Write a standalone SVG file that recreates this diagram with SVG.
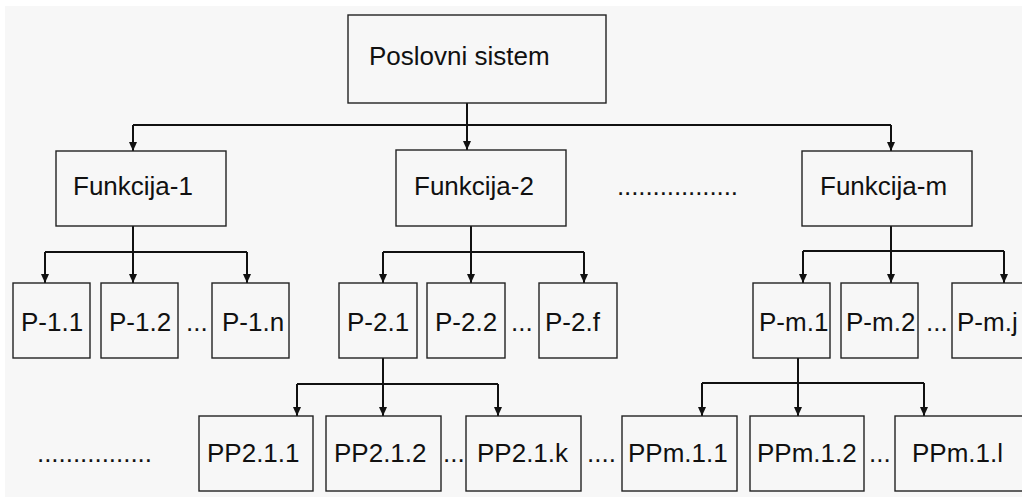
<svg xmlns="http://www.w3.org/2000/svg" width="1022" height="498" viewBox="0 0 1022 498">
  <style>
    .box { fill: none; stroke: #222; stroke-width: 1.4; }
    .lbl { font-family: "Liberation Sans", Arial, sans-serif; font-size: 26px; fill: #111; }
    .wire { fill: none; stroke: #111; stroke-width: 2; }
    .drop { fill: none; stroke: #111; stroke-width: 2; marker-end: url(#arr); }
  </style>
  <defs>
    <!-- small filled arrowhead; tip sits exactly on the path end -->
    <marker id="arr" markerUnits="userSpaceOnUse" markerWidth="10" markerHeight="10" refX="9" refY="4" orient="auto" viewBox="0 0 10 8">
      <path d="M0,0 L9,4 L0,8 Z" fill="#111"/>
    </marker>
  </defs>

  <rect width="1022" height="498" fill="#ffffff"/>
  <rect x="5" y="6" width="1017" height="491" fill="#f7f7f7"/>

  <!-- connectors -->
  <g id="connectors">
    <!-- root to functions -->
    <path class="wire" d="M467,103 V125"/>
    <path class="wire" d="M133,125 H891"/>
    <path class="drop" d="M133,125 V151"/>
    <path class="drop" d="M467,125 V150"/>
    <path class="drop" d="M891,125 V151"/>
    <!-- function 1 to processes -->
    <path class="wire" d="M133,226 V252"/>
    <path class="wire" d="M45,252 H247"/>
    <path class="drop" d="M45,252 V283"/>
    <path class="drop" d="M133,252 V283"/>
    <path class="drop" d="M247,252 V283"/>
    <!-- function 2 to processes -->
    <path class="wire" d="M471,226 V252"/>
    <path class="wire" d="M383,252 H584"/>
    <path class="drop" d="M383,252 V283"/>
    <path class="drop" d="M471,252 V283"/>
    <path class="drop" d="M584,252 V283"/>
    <!-- function m to processes -->
    <path class="wire" d="M891,226 V251"/>
    <path class="wire" d="M803,251 H1004"/>
    <path class="drop" d="M803,251 V283"/>
    <path class="drop" d="M891,251 V283"/>
    <path class="drop" d="M1004,251 V283"/>
    <!-- P-2.1 to subprocesses -->
    <path class="wire" d="M383,358 V384"/>
    <path class="wire" d="M297,384 H498"/>
    <path class="drop" d="M297,384 V416"/>
    <path class="drop" d="M383,384 V416"/>
    <path class="drop" d="M498,384 V416"/>
    <!-- P-m.1 to subprocesses -->
    <path class="wire" d="M798,358 V383"/>
    <path class="wire" d="M702,383 H924"/>
    <path class="drop" d="M702,383 V416"/>
    <path class="drop" d="M798,383 V416"/>
    <path class="drop" d="M924,383 V416"/>
  </g>

  <!-- root -->
  <g id="poslovni-sistem">
    <rect class="box" x="348" y="15" width="258" height="88"/>
    <text class="lbl" x="369" y="65">Poslovni sistem</text>
  </g>

  <!-- functions -->
  <g id="funkcija-1">
    <rect class="box" x="56" y="151" width="170" height="75"/>
    <text class="lbl" x="73" y="195">Funkcija-1</text>
  </g>
  <g id="funkcija-2">
    <rect class="box" x="396" y="150" width="170" height="76"/>
    <text class="lbl" x="414" y="195">Funkcija-2</text>
  </g>
  <text class="lbl" x="617" y="195" textLength="121" lengthAdjust="spacing">.................</text>
  <g id="funkcija-m">
    <rect class="box" x="802" y="151" width="170" height="75"/>
    <text class="lbl" x="820" y="195">Funkcija-m</text>
  </g>

  <!-- processes of function 1 -->
  <g id="p-1-1">
    <rect class="box" x="13" y="283" width="77" height="75"/>
    <text class="lbl" x="21" y="331">P-1.1</text>
  </g>
  <g id="p-1-2">
    <rect class="box" x="101" y="283" width="77" height="75"/>
    <text class="lbl" x="109" y="331">P-1.2</text>
  </g>
  <text class="lbl" x="186" y="331">...</text>
  <g id="p-1-n">
    <rect class="box" x="212" y="283" width="77" height="75"/>
    <text class="lbl" x="222" y="331">P-1.n</text>
  </g>

  <!-- processes of function 2 -->
  <g id="p-2-1">
    <rect class="box" x="339" y="283" width="78" height="75"/>
    <text class="lbl" x="347" y="331">P-2.1</text>
  </g>
  <g id="p-2-2">
    <rect class="box" x="427" y="283" width="78" height="75"/>
    <text class="lbl" x="435" y="331">P-2.2</text>
  </g>
  <text class="lbl" x="511" y="331">...</text>
  <g id="p-2-f">
    <rect class="box" x="539" y="283" width="78" height="75"/>
    <text class="lbl" x="545" y="331">P-2.f</text>
  </g>

  <!-- processes of function m -->
  <g id="p-m-1">
    <rect class="box" x="753" y="283" width="77" height="75"/>
    <text class="lbl" x="759" y="331">P-m.1</text>
  </g>
  <g id="p-m-2">
    <rect class="box" x="841" y="283" width="77" height="75"/>
    <text class="lbl" x="846" y="331">P-m.2</text>
  </g>
  <text class="lbl" x="926" y="331">...</text>
  <g id="p-m-j">
    <rect class="box" x="952" y="283" width="80" height="75"/>
    <text class="lbl" x="957" y="331">P-m.j</text>
  </g>

  <!-- subprocesses -->
  <text class="lbl" x="37" y="462" textLength="115" lengthAdjust="spacing">................</text>
  <g id="pp-2-1-1">
    <rect class="box" x="199" y="416" width="114" height="75"/>
    <text class="lbl" x="207" y="462">PP2.1.1</text>
  </g>
  <g id="pp-2-1-2">
    <rect class="box" x="326" y="416" width="115" height="75"/>
    <text class="lbl" x="334" y="462">PP2.1.2</text>
  </g>
  <text class="lbl" x="443" y="462">...</text>
  <g id="pp-2-1-k">
    <rect class="box" x="466" y="416" width="115" height="75"/>
    <text class="lbl" x="477" y="462">PP2.1.k</text>
  </g>
  <text class="lbl" x="587" y="462">....</text>
  <g id="pp-m-1-1">
    <rect class="box" x="622" y="416" width="115" height="75"/>
    <text class="lbl" x="628" y="462">PPm.1.1</text>
  </g>
  <g id="pp-m-1-2">
    <rect class="box" x="750" y="416" width="114" height="75"/>
    <text class="lbl" x="757" y="462">PPm.1.2</text>
  </g>
  <text class="lbl" x="869" y="462">...</text>
  <g id="pp-m-1-l">
    <rect class="box" x="895" y="416" width="140" height="75"/>
    <text class="lbl" x="912" y="462">PPm.1.l</text>
  </g>
</svg>
